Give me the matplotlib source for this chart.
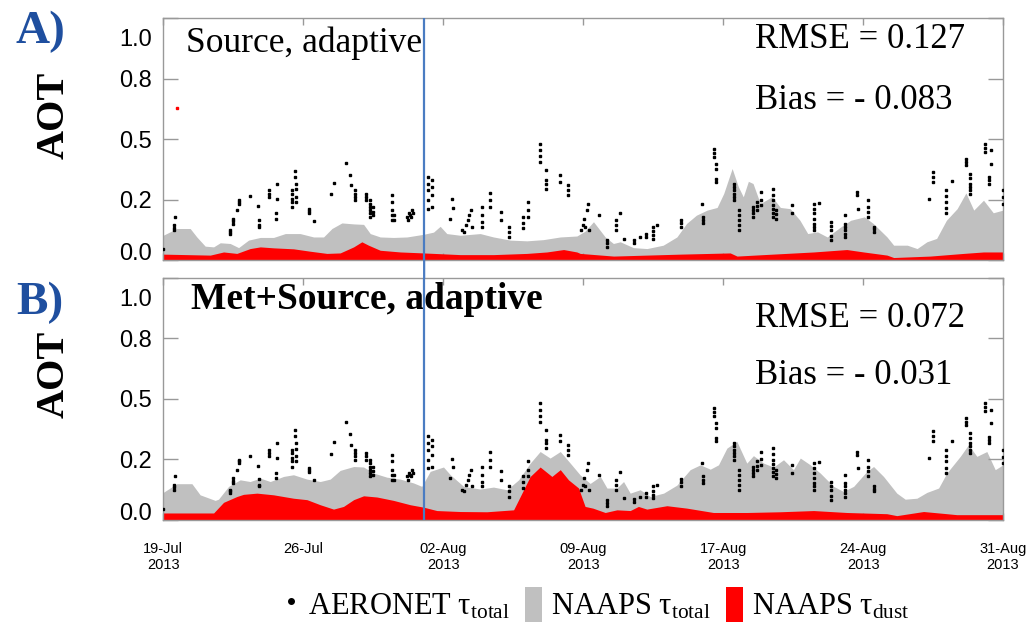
import numpy as np
import matplotlib
matplotlib.use("Agg")
import matplotlib.pyplot as plt
import matplotlib.transforms as mtransforms
from matplotlib.patches import Patch, ConnectionPatch
from matplotlib.lines import Line2D

plt.rcParams['mathtext.fontset'] = 'stix'

# x axis: days since 19-Jul-2013
xmax = 43.0
tick_labels = ["19-Jul\n2013", "26-Jul", "02-Aug\n2013", "09-Aug\n2013",
               "17-Aug\n2013", "24-Aug\n2013", "31-Aug\n2013"]
ytick_vals = [0.0, 0.25, 0.5, 0.75, 1.0]
ytick_labels = ["0.0", "0.2", "0.5", "0.8", "1.0"]
event_day = 13.36

# panel A: NAAPS total / dust (source, adaptive)
gray_a_day = [0.0, 0.70, 1.38, 1.72, 2.15, 2.58, 2.92, 3.43, 3.86, 4.37, 4.97, 5.65, 6.25, 7.01,
              7.70, 8.21, 8.64, 9.15, 9.75, 10.26, 10.60, 11.11, 11.79, 12.48, 13.33, 13.84,
              14.18, 14.52, 15.21, 16.23, 16.91, 17.77, 18.62, 19.47, 20.33, 21.18, 21.60,
              22.03, 22.63, 23.05, 23.40, 24.07, 24.77, 25.60, 26.30, 26.80, 27.30, 27.85,
              28.36, 28.70, 29.13, 29.45, 29.70, 29.96, 30.20, 30.57, 31.17, 31.60, 32.10,
              32.60, 33.00, 33.50, 34.00, 34.70, 35.20, 35.90, 36.35, 37.06, 37.40, 38.10,
              38.60, 39.10, 39.60, 40.10, 40.65, 41.10, 41.50, 42.00, 42.50, 43.00]
gray_a = [0.103, 0.131, 0.131, 0.096, 0.058, 0.055, 0.072, 0.069, 0.052, 0.083, 0.094, 0.094,
          0.110, 0.110, 0.096, 0.096, 0.131, 0.154, 0.150, 0.148, 0.110, 0.096, 0.094, 0.096,
          0.107, 0.116, 0.140, 0.110, 0.103, 0.110, 0.096, 0.083, 0.080, 0.085, 0.096, 0.100,
          0.120, 0.159, 0.096, 0.069, 0.076, 0.052, 0.048, 0.062, 0.096, 0.152, 0.186, 0.207,
          0.218, 0.276, 0.379, 0.303, 0.262, 0.326, 0.317, 0.234, 0.262, 0.218, 0.213, 0.165,
          0.110, 0.117, 0.096, 0.138, 0.165, 0.179, 0.152, 0.096, 0.062, 0.062, 0.048, 0.076,
          0.090, 0.165, 0.213, 0.278, 0.207, 0.248, 0.196, 0.207]
red_a_day = [0.0, 2.41, 3.09, 3.77, 4.45, 4.97, 5.65, 6.67, 7.53, 8.38, 9.06, 9.75, 10.17,
             10.51, 11.11, 12.14, 13.33, 15.21, 16.91, 18.62, 19.64, 20.50, 21.18, 21.35,
             23.06, 24.76, 26.47, 29.03, 29.38, 30.74, 33.30, 35.00, 35.86, 37.06, 37.40,
             39.27, 40.98, 42.00, 43.00]
red_a = [0.025, 0.021, 0.034, 0.028, 0.048, 0.055, 0.051, 0.047, 0.037, 0.028, 0.030, 0.055,
         0.076, 0.062, 0.041, 0.034, 0.030, 0.023, 0.023, 0.028, 0.034, 0.044, 0.034, 0.028,
         0.017, 0.021, 0.025, 0.030, 0.017, 0.023, 0.034, 0.044, 0.034, 0.021, 0.011, 0.017,
         0.028, 0.034, 0.034]

# panel B: NAAPS total / dust (met+source, adaptive)
gray_b_day = [0.0, 0.70, 1.47, 1.89, 2.66, 2.83, 3.35, 3.94, 4.45, 4.97, 5.48, 6.16, 6.67,
              7.36, 8.04, 8.55, 9.06, 9.75, 10.26, 10.77, 11.45, 12.14, 12.82, 13.24, 13.67,
              14.35, 14.70, 15.38, 16.23, 16.91, 17.60, 18.20, 18.79, 19.30, 19.81, 20.33,
              20.84, 21.35, 21.86, 22.38, 22.72, 23.23, 23.57, 23.91, 24.42, 24.94, 25.62,
              26.30, 26.98, 27.50, 28.01, 28.43, 28.86, 29.37, 29.88, 30.22, 30.74, 31.25,
              31.76, 32.27, 32.62, 33.13, 33.64, 34.32, 34.83, 35.35, 36.03, 36.37, 36.88,
              37.56, 37.99, 38.59, 39.10, 39.70, 40.12, 40.81, 41.23, 41.66, 42.17, 42.60, 43.00]
gray_b = [0.113, 0.149, 0.149, 0.103, 0.080, 0.085, 0.138, 0.165, 0.158, 0.172, 0.158, 0.179,
          0.186, 0.168, 0.158, 0.168, 0.204, 0.220, 0.218, 0.193, 0.176, 0.168, 0.152, 0.138,
          0.200, 0.218, 0.186, 0.138, 0.127, 0.135, 0.124, 0.165, 0.234, 0.282, 0.255, 0.282,
          0.234, 0.185, 0.150, 0.179, 0.131, 0.131, 0.158, 0.110, 0.124, 0.096, 0.110, 0.143,
          0.207, 0.227, 0.209, 0.227, 0.296, 0.324, 0.234, 0.265, 0.234, 0.218, 0.248, 0.207,
          0.255, 0.227, 0.193, 0.138, 0.117, 0.138, 0.200, 0.220, 0.179, 0.110, 0.085, 0.089,
          0.113, 0.131, 0.193, 0.262, 0.310, 0.262, 0.282, 0.207, 0.227]
red_b_day = [0.0, 2.58, 3.09, 3.77, 4.11, 4.80, 5.65, 6.67, 7.36, 8.04, 8.72, 9.23, 9.75,
             10.26, 10.94, 11.79, 12.65, 13.33, 14.01, 15.21, 16.57, 17.94, 18.28, 18.79,
             19.30, 19.90, 20.33, 20.75, 21.27, 21.40, 21.60, 22.00, 22.63, 23.23, 23.91,
             24.33, 24.76, 25.79, 26.81, 28.17, 29.88, 31.59, 33.30, 35.00, 37.05, 37.56,
             38.93, 40.12, 40.63, 43.00]
red_b = [0.028, 0.028, 0.072, 0.096, 0.105, 0.110, 0.103, 0.089, 0.083, 0.062, 0.044, 0.055,
         0.083, 0.099, 0.094, 0.080, 0.062, 0.052, 0.038, 0.034, 0.033, 0.041, 0.096, 0.179,
         0.218, 0.179, 0.207, 0.165, 0.131, 0.100, 0.055, 0.048, 0.030, 0.041, 0.038, 0.055,
         0.044, 0.058, 0.048, 0.030, 0.030, 0.033, 0.038, 0.030, 0.025, 0.017, 0.034, 0.025,
         0.021, 0.021]

# AERONET observations (day, AOT), same in both panels
aeronet_obs = [
    (0.0, 0.045), (0.57, 0.124), (0.57, 0.135), (0.57, 0.145), (0.62, 0.179),
    (3.43, 0.110), (3.43, 0.117), (3.43, 0.124), (3.57, 0.151), (3.57, 0.160), (3.57, 0.172),
    (3.77, 0.207), (3.86, 0.234), (3.86, 0.241), (3.86, 0.248), (4.45, 0.264), (4.83, 0.223),
    (4.88, 0.138), (4.88, 0.145), (4.88, 0.168), (5.44, 0.262), (5.44, 0.275), (5.44, 0.289),
    (5.85, 0.255), (5.85, 0.317), (5.79, 0.172), (5.79, 0.193),
    (6.60, 0.220), (6.60, 0.241), (6.60, 0.255), (6.60, 0.275), (6.60, 0.289),
    (6.73, 0.369), (6.73, 0.345), (6.78, 0.241), (6.78, 0.262), (6.78, 0.293), (6.78, 0.317),
    (7.44, 0.196), (7.44, 0.205), (7.44, 0.213), (7.70, 0.163), (8.60, 0.272), (8.76, 0.320),
    (9.37, 0.402), (9.54, 0.354), (9.61, 0.310),
    (9.83, 0.248), (9.83, 0.262), (9.83, 0.275), (9.83, 0.289),
    (10.39, 0.248), (10.39, 0.262), (10.39, 0.275),
    (10.60, 0.179), (10.60, 0.193), (10.60, 0.207), (10.60, 0.220), (10.60, 0.234), (10.60, 0.248),
    (10.75, 0.186), (10.75, 0.200), (10.75, 0.220),
    (11.71, 0.165), (11.71, 0.186), (11.71, 0.207), (11.71, 0.241), (11.71, 0.269),
    (11.80, 0.165), (11.80, 0.186),
    (12.50, 0.179), (12.55, 0.165), (12.60, 0.193), (12.65, 0.186), (12.70, 0.179),
    (12.75, 0.207), (12.80, 0.193),
    (13.58, 0.213), (13.58, 0.248), (13.58, 0.289), (13.58, 0.317), (13.58, 0.345),
    (13.75, 0.220), (13.75, 0.269), (13.75, 0.303), (13.75, 0.331),
    (14.70, 0.172), (14.78, 0.251), (14.82, 0.217),
    (15.30, 0.124), (15.40, 0.117), (15.50, 0.145), (15.60, 0.165), (15.65, 0.186),
    (15.75, 0.207), (15.80, 0.138),
    (16.30, 0.138), (16.30, 0.158), (16.30, 0.186), (16.30, 0.220),
    (16.74, 0.220), (16.74, 0.248), (16.74, 0.278), (17.30, 0.165), (17.30, 0.200),
    (17.70, 0.096), (17.70, 0.117), (17.70, 0.138),
    (18.40, 0.131), (18.40, 0.155), (18.40, 0.179), (18.70, 0.179), (18.70, 0.207), (18.70, 0.241),
    (19.30, 0.406), (19.30, 0.430), (19.30, 0.455), (19.30, 0.482),
    (19.60, 0.296), (19.60, 0.317), (19.60, 0.331), (19.60, 0.372),
    (20.30, 0.324), (20.30, 0.351), (20.70, 0.269), (20.70, 0.289), (20.70, 0.310),
    (21.40, 0.124), (21.50, 0.145), (21.55, 0.172), (21.60, 0.138), (21.70, 0.207),
    (21.75, 0.234), (21.80, 0.124),
    (22.30, 0.186), (22.70, 0.055), (22.70, 0.070), (22.70, 0.083),
    (23.20, 0.124), (23.20, 0.145), (23.20, 0.165), (23.40, 0.196), (23.60, 0.089),
    (24.10, 0.072), (24.10, 0.085), (24.40, 0.096), (24.70, 0.096), (24.70, 0.110),
    (25.10, 0.089), (25.10, 0.103), (25.10, 0.120), (25.10, 0.138), (25.30, 0.145),
    (26.50, 0.138), (26.50, 0.155), (26.50, 0.168), (27.60, 0.234),
    (27.65, 0.152), (27.65, 0.165), (27.65, 0.179),
    (28.20, 0.427), (28.20, 0.445), (28.20, 0.461), (28.30, 0.379), (28.30, 0.399),
    (28.30, 0.324), (28.30, 0.337),
    (29.20, 0.248), (29.20, 0.262), (29.20, 0.275), (29.20, 0.289), (29.20, 0.303), (29.20, 0.317),
    (29.50, 0.124), (29.50, 0.145), (29.50, 0.165), (29.50, 0.186), (29.50, 0.207),
    (30.20, 0.179), (30.20, 0.193), (30.20, 0.207), (30.20, 0.220),
    (30.40, 0.207), (30.40, 0.224), (30.40, 0.241), (30.60, 0.227), (30.60, 0.250), (30.60, 0.282),
    (31.20, 0.179), (31.20, 0.196), (31.20, 0.213), (31.20, 0.230), (31.20, 0.248),
    (31.20, 0.270), (31.20, 0.296), (31.40, 0.172), (31.40, 0.190), (31.40, 0.207),
    (32.20, 0.193), (32.20, 0.227),
    (33.30, 0.124), (33.30, 0.138), (33.30, 0.151), (33.30, 0.172), (33.30, 0.193),
    (33.30, 0.213), (33.30, 0.234), (33.60, 0.237),
    (34.20, 0.083), (34.20, 0.100), (34.20, 0.124), (34.20, 0.140), (34.20, 0.158),
    (34.90, 0.096), (34.90, 0.110), (34.90, 0.124), (34.90, 0.138), (34.90, 0.151), (34.90, 0.186),
    (35.50, 0.269), (35.50, 0.282), (35.55, 0.213),
    (36.10, 0.179), (36.10, 0.200), (36.10, 0.220), (36.10, 0.248),
    (36.40, 0.117), (36.40, 0.127), (36.40, 0.138),
    (39.20, 0.255), (39.40, 0.324), (39.40, 0.345), (39.40, 0.365),
    (40.10, 0.193), (40.10, 0.215), (40.10, 0.241), (40.10, 0.265), (40.10, 0.289), (40.40, 0.327),
    (41.10, 0.392), (41.10, 0.406), (41.10, 0.420),
    (41.30, 0.275), (41.30, 0.289), (41.30, 0.303), (41.30, 0.317), (41.30, 0.338), (41.30, 0.358),
    (42.10, 0.448), (42.10, 0.465), (42.10, 0.482), (42.40, 0.455), (42.40, 0.399),
    (42.30, 0.317), (42.30, 0.330), (42.30, 0.344),
    (43.00, 0.234), (43.00, 0.260), (43.00, 0.289),
]
stray_red = (0.72, 0.63)

panels = [
    dict(title="Source, adaptive", bold=False, tsize=25.5, ty=0.897,
         rmse="RMSE = 0.127", ry=0.913, bias="Bias = - 0.083", by=0.661,
         gday=gray_a_day, gval=gray_a, rday=red_a_day, rval=red_a),
    dict(title="Met+Source, adaptive", bold=True, tsize=27, ty=0.910,
         rmse="RMSE = 0.072", ry=0.830, bias="Bias = - 0.031", by=0.598,
         gday=gray_b_day, gval=gray_b, rday=red_b_day, rval=red_b),
]

gray_col = "#c0c0c0"
red_col = "#ff0000"
blue_line = "#4a7cc2"
tag_blue = "#1f4f9f"
frame_col = "#999999"
serif = "Liberation Serif"
sans = "Liberation Sans"

fig = plt.figure(figsize=(10.33, 6.30), dpi=100)
ax_a = fig.add_axes([0.158, 0.587, 0.813, 0.384])
ax_b = fig.add_axes([0.158, 0.175, 0.813, 0.384])
axes = [ax_a, ax_b]

obs_day = [d for d, v in aeronet_obs]
obs_val = [v for d, v in aeronet_obs]

for ax, p in zip(axes, panels):
    ax.fill_between(p["gday"], 0, p["gval"], color=gray_col, lw=0, zorder=1)
    ax.fill_between(p["rday"], 0, p["rval"], color=red_col, lw=0, zorder=2)
    ax.plot(obs_day, obs_val, ls="none", marker="s", ms=1.9, color="black", zorder=3)
    ax.axvline(event_day, color=blue_line, lw=1.6, zorder=4)
    ax.set_xlim(0, xmax)
    ax.set_ylim(0, 1.0)
    ax.set_yticks(ytick_vals)
    ax.set_xticks(np.linspace(0, xmax, 7))
    ax.tick_params(axis="y", direction="in", length=11, width=1, color=frame_col,
                   left=True, right=True, pad=8)
    ax.tick_params(axis="x", direction="in", length=5, width=1, color=frame_col,
                   top=True, bottom=True)
    ax.set_yticklabels(ytick_labels, fontfamily=sans, fontsize=17)
    for s in ax.spines.values():
        s.set_color(frame_col)
        s.set_linewidth(1)
    ax.text(0.027 if not p["bold"] else 0.033, p["ty"], p["title"],
            transform=ax.transAxes, fontfamily=serif, fontsize=p["tsize"],
            fontweight="bold" if p["bold"] else "normal", va="center", ha="left")
    ax.text(0.705, p["ry"], p["rmse"], transform=ax.transAxes,
            fontfamily=serif, fontsize=25, va="center", ha="left")
    ax.text(0.705, p["by"], p["bias"], transform=ax.transAxes,
            fontfamily=serif, fontsize=25, va="center", ha="left")

ax_a.plot([stray_red[0]], [stray_red[1]], ls="none", marker="s", ms=1.5, color=red_col)
ax_a.set_xticklabels([])
ax_b.tick_params(axis="x", pad=16)
ax_b.set_xticklabels(tick_labels, fontfamily=sans, fontsize=10.5)

# end labels of the y axis sit inside the frame, as in the original
for ax in axes:
    ylabs = ax.get_yticklabels()
    ylabs[0].set_verticalalignment("baseline")
    ylabs[-1].set_verticalalignment("top")
    ylabs[-1].set_transform(ylabs[-1].get_transform() +
                            mtransforms.ScaledTranslation(0, -8 / 72, fig.dpi_scale_trans))

# blue marker line crossing the gap between panels
fig.add_artist(ConnectionPatch(xyA=(event_day, 0), coordsA=ax_a.transData,
                               xyB=(event_day, 1.0), coordsB=ax_b.transData,
                               color=blue_line, lw=1.6))

fig.text(0.039, 0.950, "A)", color=tag_blue, fontfamily=serif, fontweight="bold",
         fontsize=34, ha="center", va="center")
fig.text(0.039, 0.520, "B)", color=tag_blue, fontfamily=serif, fontweight="bold",
         fontsize=34, ha="center", va="center")
fig.text(0.052, 0.817, "AOT", rotation=90, fontfamily=serif, fontweight="bold",
         fontsize=29, ha="center", va="center")
fig.text(0.052, 0.405, "AOT", rotation=90, fontfamily=serif, fontweight="bold",
         fontsize=29, ha="center", va="center")

handles = [Line2D([], [], ls="none", marker="o", ms=4, color="black"),
           Patch(facecolor=gray_col, edgecolor="none"),
           Patch(facecolor=red_col, edgecolor="none")]
labels = [r"AERONET $\mathregular{\tau_{total}}$", r"NAAPS $\mathregular{\tau_{total}}$",
          r"NAAPS $\mathregular{\tau_{dust}}$"]
fig.legend(handles, labels, loc="center", bbox_to_anchor=(0.577, 0.04), ncol=3,
           frameon=False, prop={"family": serif, "size": 22}, handlelength=0.55,
           handleheight=1.4, handletextpad=0.3, columnspacing=0.5, borderpad=0)

fig.savefig("out.png", dpi=100)
